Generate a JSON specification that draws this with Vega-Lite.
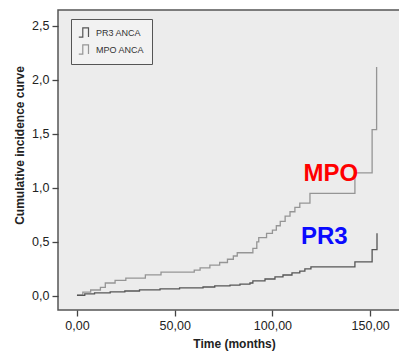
{
  "$schema": "https://vega.github.io/schema/vega-lite/v6.json",
  "autosize": "none",
  "width": 345,
  "height": 300,
  "padding": {"left": 58, "top": 10, "right": 0, "bottom": 46},
  "background": "white",
  "config": {
    "view": {"stroke": "#555555", "strokeWidth": 1.5, "fill": "#ececec"},
    "font": "Liberation Sans"
  },
  "datasets": {
    "curves": [
      {"series": "MPO ANCA", "t": 0, "v": 0.01},
      {"series": "MPO ANCA", "t": 3, "v": 0.035},
      {"series": "MPO ANCA", "t": 7, "v": 0.055},
      {"series": "MPO ANCA", "t": 12, "v": 0.08},
      {"series": "MPO ANCA", "t": 14.5, "v": 0.12},
      {"series": "MPO ANCA", "t": 19.5, "v": 0.145},
      {"series": "MPO ANCA", "t": 25, "v": 0.165},
      {"series": "MPO ANCA", "t": 35, "v": 0.195},
      {"series": "MPO ANCA", "t": 43, "v": 0.22},
      {"series": "MPO ANCA", "t": 60, "v": 0.24},
      {"series": "MPO ANCA", "t": 63, "v": 0.26},
      {"series": "MPO ANCA", "t": 68, "v": 0.285},
      {"series": "MPO ANCA", "t": 73, "v": 0.31},
      {"series": "MPO ANCA", "t": 77, "v": 0.34},
      {"series": "MPO ANCA", "t": 80, "v": 0.37},
      {"series": "MPO ANCA", "t": 82, "v": 0.4},
      {"series": "MPO ANCA", "t": 90, "v": 0.44},
      {"series": "MPO ANCA", "t": 92, "v": 0.5},
      {"series": "MPO ANCA", "t": 93, "v": 0.54},
      {"series": "MPO ANCA", "t": 97, "v": 0.58},
      {"series": "MPO ANCA", "t": 100, "v": 0.61},
      {"series": "MPO ANCA", "t": 102, "v": 0.65},
      {"series": "MPO ANCA", "t": 104, "v": 0.69},
      {"series": "MPO ANCA", "t": 106.5, "v": 0.74},
      {"series": "MPO ANCA", "t": 109, "v": 0.78},
      {"series": "MPO ANCA", "t": 111.5, "v": 0.82},
      {"series": "MPO ANCA", "t": 114, "v": 0.86},
      {"series": "MPO ANCA", "t": 119.2, "v": 0.95},
      {"series": "MPO ANCA", "t": 142.2, "v": 1.14},
      {"series": "MPO ANCA", "t": 151, "v": 1.54},
      {"series": "MPO ANCA", "t": 153.3, "v": 2.12},
      {"series": "PR3 ANCA", "t": 0, "v": 0.005},
      {"series": "PR3 ANCA", "t": 4, "v": 0.02},
      {"series": "PR3 ANCA", "t": 9, "v": 0.028},
      {"series": "PR3 ANCA", "t": 17, "v": 0.037},
      {"series": "PR3 ANCA", "t": 24.5, "v": 0.046},
      {"series": "PR3 ANCA", "t": 32, "v": 0.056},
      {"series": "PR3 ANCA", "t": 42.5, "v": 0.065},
      {"series": "PR3 ANCA", "t": 52.5, "v": 0.074},
      {"series": "PR3 ANCA", "t": 64.5, "v": 0.083},
      {"series": "PR3 ANCA", "t": 70.5, "v": 0.093},
      {"series": "PR3 ANCA", "t": 78.3, "v": 0.1},
      {"series": "PR3 ANCA", "t": 83.4, "v": 0.11},
      {"series": "PR3 ANCA", "t": 88.5, "v": 0.12},
      {"series": "PR3 ANCA", "t": 90, "v": 0.139},
      {"series": "PR3 ANCA", "t": 96.2, "v": 0.157},
      {"series": "PR3 ANCA", "t": 101.3, "v": 0.176},
      {"series": "PR3 ANCA", "t": 105.4, "v": 0.194},
      {"series": "PR3 ANCA", "t": 110, "v": 0.213},
      {"series": "PR3 ANCA", "t": 114, "v": 0.23},
      {"series": "PR3 ANCA", "t": 116.6, "v": 0.25},
      {"series": "PR3 ANCA", "t": 119.7, "v": 0.27},
      {"series": "PR3 ANCA", "t": 142.2, "v": 0.315},
      {"series": "PR3 ANCA", "t": 151, "v": 0.43},
      {"series": "PR3 ANCA", "t": 153.5, "v": 0.58}
    ],
    "labels": [
      {"label": "MPO", "t": 129.9, "v": 1.068},
      {"label": "PR3", "t": 126.5, "v": 0.479}
    ]
  },
  "layer": [
    {
      "data": {"name": "curves"},
      "mark": {"type": "line", "interpolate": "step-after", "strokeWidth": 1.3},
      "encoding": {
        "x": {
          "field": "t", "type": "quantitative",
          "scale": {"domain": [-9.7, 166.8], "nice": false, "zero": false},
          "axis": {
            "values": [0, 50, 100, 150],
            "labelExpr": "replace(format(datum.value, '.2f'), '.', ',')",
            "domain": false, "grid": false,
            "tickSize": 6, "tickColor": "#444444", "tickWidth": 1.3,
            "labelFont": "Liberation Sans", "labelFontSize": 12.5, "labelColor": "#222222",
            "labelPadding": 3,
            "title": "Time (months)",
            "titleFont": "Liberation Sans", "titleFontSize": 12, "titleFontWeight": "bold", "titleColor": "#222222",
            "titleX": 176, "titleY": 37, "titleBaseline": "alphabetic", "titleAnchor": "middle", "titleAlign": "center"
          }
        },
        "y": {
          "field": "v", "type": "quantitative",
          "scale": {"domain": [-0.13, 2.648], "nice": false, "zero": false},
          "axis": {
            "values": [0, 0.5, 1, 1.5, 2, 2.5],
            "labelExpr": "replace(format(datum.value, '.1f'), '.', ',')",
            "domain": false, "grid": false,
            "tickSize": 6, "tickColor": "#444444", "tickWidth": 1.3,
            "labelFont": "Liberation Sans", "labelFontSize": 12.5, "labelColor": "#222222",
            "labelPadding": 3,
            "title": "Cumulative incidence curve",
            "titleFont": "Liberation Sans", "titleFontSize": 12, "titleFontWeight": "bold", "titleColor": "#222222",
            "titleX": -39, "titleY": 135, "titleAngle": -90, "titleBaseline": "middle", "titleAlign": "center"
          }
        },
        "color": {
          "field": "series", "type": "nominal",
          "scale": {"domain": ["PR3 ANCA", "MPO ANCA"], "range": ["#555555", "#959595"]},
          "legend": {
            "title": null,
            "orient": "none", "legendX": 13, "legendY": 9,
            "symbolType": "M-1,0.8H-0.3V-0.8H0.7V0.8",
            "symbolSize": 130, "symbolStrokeWidth": 1.2, "symbolFillColor": "transparent",
            "labelFont": "Liberation Sans", "labelFontSize": 9, "labelColor": "#333333",
            "strokeColor": "#555555", "fillColor": "#f2f2f2",
            "padding": 7, "rowPadding": 2, "labelOffset": 5
          }
        }
      }
    },
    {
      "data": {"name": "labels"},
      "transform": [{"filter": "datum.label == 'MPO'"}],
      "mark": {"type": "text", "font": "Liberation Sans", "fontSize": 24, "fontWeight": "bold", "color": "#ff0000", "align": "center", "baseline": "alphabetic"},
      "encoding": {
        "x": {"field": "t", "type": "quantitative"},
        "y": {"field": "v", "type": "quantitative"},
        "text": {"field": "label"}
      }
    },
    {
      "data": {"name": "labels"},
      "transform": [{"filter": "datum.label == 'PR3'"}],
      "mark": {"type": "text", "font": "Liberation Sans", "fontSize": 24, "fontWeight": "bold", "color": "#0a0aff", "align": "center", "baseline": "alphabetic"},
      "encoding": {
        "x": {"field": "t", "type": "quantitative"},
        "y": {"field": "v", "type": "quantitative"},
        "text": {"field": "label"}
      }
    }
  ]
}
